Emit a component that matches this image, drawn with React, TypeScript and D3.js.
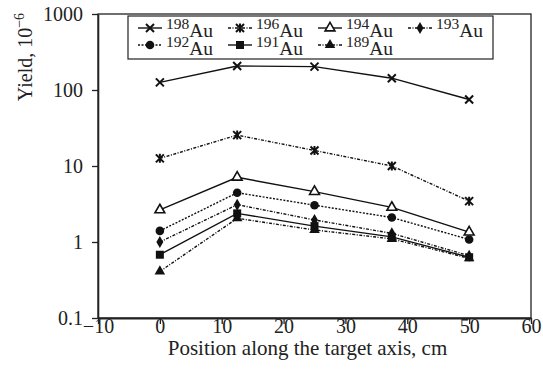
import * as d3 from 'd3';
import { useEffect, useRef } from 'react';

const POSITIONS = [0, 12.5, 25, 37.5, 50];
const X_TICKS = [-10, 0, 10, 20, 30, 40, 50, 60];
const Y_TICKS = [0.1, 1, 10, 100, 1000];

const AU198 = [126, 207, 203, 143, 75];
const AU196 = [12.6, 25.5, 16.0, 10.0, 3.45];
const AU194 = [2.64, 7.1, 4.6, 2.85, 1.35];
const AU193 = [1.0, 3.1, 1.95, 1.3, 0.66];
const AU192 = [1.4, 4.45, 3.05, 2.1, 1.08];
const AU191 = [0.68, 2.38, 1.62, 1.17, 0.63];
const AU189 = [0.41, 2.05, 1.44, 1.1, 0.61];

type Series = { mass: string; values: number[]; marker: string; dash: string | null };

const SERIES: Series[] = [
    { mass: '198', values: AU198, marker: 'x', dash: null },
    { mass: '196', values: AU196, marker: 'star', dash: '3,1.5,1,1.5' },
    { mass: '194', values: AU194, marker: 'triOpen', dash: null },
    { mass: '193', values: AU193, marker: 'diamond', dash: '3,1.5,1,1.5' },
    { mass: '192', values: AU192, marker: 'circle', dash: '2,1.5' },
    { mass: '191', values: AU191, marker: 'square', dash: null },
    { mass: '189', values: AU189, marker: 'triFilled', dash: '3,1.5,1,1.5' },
];

const FONT = '"Liberation Serif", "Times New Roman", serif';

function drawMarker(g: d3.Selection<SVGGElement, unknown, null, undefined>, kind: string, cx: number, cy: number) {
    const s = 4;
    if (kind === 'x' || kind === 'star') {
        const p = d3.path();
        p.moveTo(cx - s, cy - s); p.lineTo(cx + s, cy + s);
        p.moveTo(cx - s, cy + s); p.lineTo(cx + s, cy - s);
        if (kind === 'star') { p.moveTo(cx, cy - s - 0.5); p.lineTo(cx, cy + s + 0.5); }
        g.append('path').attr('d', p.toString()).attr('stroke', '#111').attr('stroke-width', 2).attr('fill', 'none');
    } else if (kind === 'circle') {
        g.append('circle').attr('cx', cx).attr('cy', cy).attr('r', 4.3).attr('fill', '#111');
    } else if (kind === 'square') {
        g.append('rect').attr('x', cx - 4).attr('y', cy - 4).attr('width', 8).attr('height', 8).attr('fill', '#111');
    } else if (kind === 'diamond') {
        g.append('path').attr('d', d3.symbol(d3.symbolDiamond, 42)()).attr('transform', `translate(${cx},${cy})`).attr('fill', '#111');
    } else if (kind === 'triFilled') {
        g.append('path').attr('d', d3.symbol(d3.symbolTriangle, 48)()).attr('transform', `translate(${cx},${cy})`).attr('fill', '#111');
    } else if (kind === 'triOpen') {
        g.append('path').attr('d', d3.symbol(d3.symbolTriangle, 42)()).attr('transform', `translate(${cx},${cy})`)
            .attr('fill', '#fff').attr('stroke', '#111').attr('stroke-width', 1.6);
    }
}

export default function App() {
    const svgRef = useRef<SVGSVGElement>(null);

    useEffect(() => {
        if (!svgRef.current) return;
        const svg = d3.select(svgRef.current);
        svg.selectAll('*').remove();

        const W = 543;
        const H = 369;
        const m = { top: 14, right: 12, bottom: 51, left: 98 };

        const x = d3.scaleLinear().domain([-10, 60]).range([m.left, W - m.right]);
        const y = d3.scaleLog().domain([0.1, 1000]).range([H - m.bottom, m.top]);

        svg.append('rect').attr('width', W).attr('height', H).attr('fill', '#fff');

        // frame
        svg.append('rect')
            .attr('x', m.left).attr('y', m.top)
            .attr('width', W - m.left - m.right).attr('height', H - m.top - m.bottom)
            .attr('fill', 'none').attr('stroke', '#222').attr('stroke-width', 1.3);

        const xAxis = svg.append('g')
            .attr('transform', `translate(0,${H - m.bottom})`)
            .call(d3.axisBottom(x).tickValues(X_TICKS).tickSize(6).tickSizeOuter(0).tickFormat((d) => {
                const v = Number(d);
                return v < 0 ? `\u2212${Math.abs(v)}` : String(v);
            }));
        xAxis.select('.domain').attr('stroke', '#222').attr('stroke-width', 2);
        xAxis.selectAll('line').attr('stroke', '#222').attr('stroke-width', 1.3);
        xAxis.selectAll('text').attr('font-family', FONT).attr('font-size', 20).attr('fill', '#222')
            .attr('y', 14.5).attr('dy', 0);

        const yAxis = svg.append('g')
            .attr('transform', `translate(${m.left},0)`)
            .call(d3.axisLeft(y).tickValues(Y_TICKS).tickSize(6).tickSizeOuter(0).tickFormat((d) => String(d)));
        yAxis.select('.domain').attr('stroke', '#222').attr('stroke-width', 1.6);
        yAxis.selectAll('line').attr('stroke', '#222').attr('stroke-width', 1.3);
        yAxis.selectAll('text').attr('font-family', FONT).attr('font-size', 20).attr('fill', '#222').attr('x', -15);

        svg.append('text')
            .attr('x', (m.left + W - m.right) / 2 - 7).attr('y', 355)
            .attr('text-anchor', 'middle').attr('font-family', FONT).attr('font-size', 21).attr('fill', '#222')
            .text('Position along the target axis, cm');

        const yt = svg.append('text')
            .attr('transform', 'translate(32,57) rotate(-90)')
            .attr('text-anchor', 'middle').attr('font-family', FONT).attr('font-size', 20).attr('fill', '#222');
        yt.append('tspan').text('Yield, 10');
        yt.append('tspan').attr('font-size', 14).attr('dy', -8).text('\u22126');

        const line = d3.line<number>().x((_, i) => x(POSITIONS[i])).y((v) => y(v));

        for (const s of SERIES) {
            svg.append('path')
                .attr('d', line(s.values))
                .attr('fill', 'none').attr('stroke', '#111').attr('stroke-width', 1.4)
                .attr('stroke-dasharray', s.dash);
            const mg = svg.append('g');
            s.values.forEach((v, i) => drawMarker(mg, s.marker, x(POSITIONS[i]), y(v)));
        }

        // legend
        const lg = svg.append('g');
        lg.append('rect').attr('x', 128).attr('y', 16).attr('width', 365).attr('height', 43)
            .attr('fill', '#fff').attr('stroke', '#222').attr('stroke-width', 1.2);
        const colX = [138, 228, 318, 408];
        const rowY = [28, 45];
        const rowBase = [37, 55];
        SERIES.forEach((s, i) => {
            const cx = colX[i % 4];
            const r = Math.floor(i / 4);
            const cy = rowY[r];
            lg.append('line').attr('x1', cx).attr('x2', cx + 24).attr('y1', cy).attr('y2', cy)
                .attr('stroke', '#111').attr('stroke-width', 1.4).attr('stroke-dasharray', s.dash);
            drawMarker(lg as any, s.marker, cx + 12, cy);
            const t = lg.append('text').attr('x', cx + 28).attr('y', rowBase[r])
                .attr('font-family', FONT).attr('fill', '#222');
            t.append('tspan').attr('font-size', 15.5).attr('dy', -8.5).text(s.mass);
            t.append('tspan').attr('font-size', 19.5).attr('dy', 8.5).text('Au');
        });
    }, []);

    return <svg ref={svgRef} width={543} height={369} style={{ display: 'block', position: 'absolute', left: 0, top: 0 }} />;
}
